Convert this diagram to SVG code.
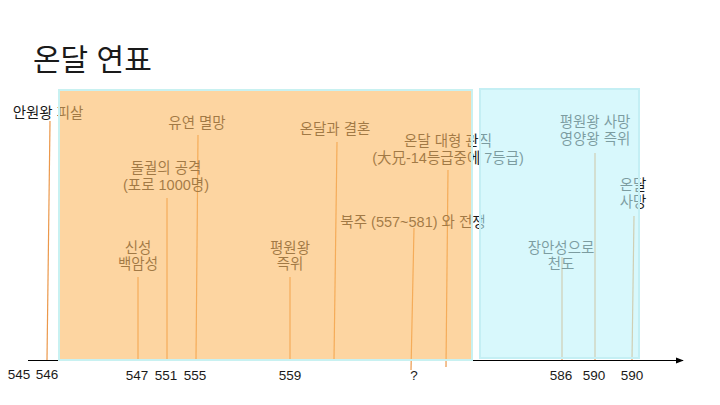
<svg xmlns="http://www.w3.org/2000/svg" width="720" height="405" viewBox="0 0 720 405">
<defs>
<style>
text{font-family:"Liberation Sans","Noto Sans CJK KR",sans-serif;fill:#1a1a1a}
.lb{font-size:14.5px;text-anchor:middle}
.ax{font-size:13.5px;text-anchor:middle}
.ln{stroke:#EB984B;stroke-width:1.2;fill:none}
</style>
<marker id="arr" viewBox="0 0 10 10" refX="9" refY="5" markerWidth="8" markerHeight="8" markerUnits="userSpaceOnUse" orient="auto">
<path d="M0,1 L10,5 L0,9 Z" fill="#000"/>
</marker>
</defs>
<rect width="720" height="405" fill="#fff"/>
<text x="33" y="70" font-size="30" fill="#000">온달 연표</text>

<g id="axis">
<line x1="28" y1="360.5" x2="683" y2="360.5" stroke="#000" stroke-width="1.2" marker-end="url(#arr)"/>
</g>

<g id="connectors">
<line class="ln" x1="50" y1="121" x2="47" y2="360"/>
<line class="ln" x1="138" y1="277" x2="138" y2="360"/>
<line class="ln" x1="167" y1="198" x2="167" y2="360"/>
<line class="ln" x1="198" y1="135" x2="196" y2="360"/>
<line class="ln" x1="290" y1="277" x2="290" y2="360"/>
<line class="ln" x1="337" y1="142" x2="334" y2="360"/>
<line class="ln" x1="414" y1="228" x2="411" y2="370"/>
<line class="ln" x1="448" y1="170" x2="446" y2="367"/>
<line class="ln" x1="562" y1="257" x2="562" y2="360"/>
<line class="ln" x1="595" y1="153" x2="595" y2="360"/>
<line class="ln" x1="634" y1="216" x2="632" y2="360"/>
</g>

<g id="e546"><text class="lb" x="48" y="118">안원왕 피살</text></g>
<g id="e555"><text class="lb" x="197" y="128">유연 멸망</text></g>
<g id="e-marriage"><text class="lb" x="335" y="134">온달과 결혼</text></g>
<g id="e551"><text class="lb" x="166" y="173">돌궐의 공격</text><text class="lb" x="166" y="190">(포로 1000명)</text></g>
<g id="e-rank"><text class="lb" x="448" y="146">온달 대형 관직</text><text class="lb" x="448" y="163">(大兄-14등급중에 7등급)</text></g>
<g id="e590a"><text class="lb" x="595" y="127">평원왕 사망</text><text class="lb" x="595" y="144">영양왕 즉위</text></g>
<g id="e590b"><text class="lb" x="633" y="190">온달</text><text class="lb" x="633" y="207">사망</text></g>
<g id="e-war"><text class="lb" x="413" y="227">북주 (557~581) 와 전쟁</text></g>
<g id="e586"><text class="lb" x="561" y="253">장안성으로</text><text class="lb" x="561" y="269">천도</text></g>
<g id="e547"><text class="lb" x="138" y="253">신성</text><text class="lb" x="138" y="269">백암성</text></g>
<g id="e559"><text class="lb" x="290" y="253">평원왕</text><text class="lb" x="290" y="269">즉위</text></g>

<g id="periods">
<rect x="59" y="90" width="413" height="270" fill="rgb(251,185,98)" fill-opacity="0.6" stroke="#C8F1F1" stroke-width="2"/>
<rect x="480" y="89" width="159" height="269" fill="rgb(190,243,250)" fill-opacity="0.6" stroke="#C4EFF4" stroke-width="2"/>
</g>

<g id="ticks">
<text class="ax" x="19" y="379">545</text>
<text class="ax" x="47" y="379">546</text>
<text class="ax" x="137" y="380">547</text>
<text class="ax" x="166" y="380">551</text>
<text class="ax" x="195" y="380">555</text>
<text class="ax" x="290" y="380">559</text>
<text class="ax" x="414" y="380">?</text>
<text class="ax" x="561" y="380">586</text>
<text class="ax" x="594" y="380">590</text>
<text class="ax" x="632" y="380">590</text>
</g>
</svg>
